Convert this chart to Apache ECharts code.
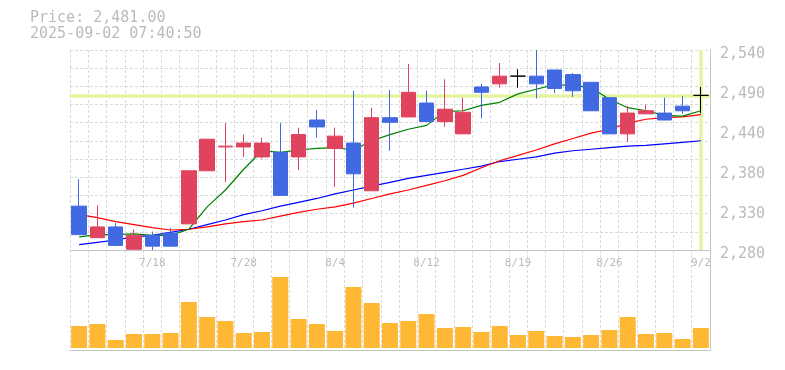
<!DOCTYPE html>
<html>
<head>
<meta charset="utf-8">
<script src="https://cdn.jsdelivr.net/npm/echarts@6/dist/echarts.min.js"></script>
<style>html,body{margin:0;padding:0;background:#fff}#c{width:785px;height:370px}</style>
</head>
<body>
<div id="c"></div>
<script>
const categories = ['7/14','7/15','7/16','7/17','7/18','7/22','7/23','7/24','7/25','7/28','7/29','7/30','7/31','8/1','8/4','8/5','8/6','8/7','8/8','8/12','8/13','8/14','8/15','8/18','8/19','8/20','8/21','8/22','8/25','8/26','8/27','8/28','8/29','9/1','9/2'];
const opens  = [2337,2296,2310,2281,2299,2302,2314,2383,2414,2414,2401,2407,2401,2449,2412,2419,2357,2452,2453,2471,2447,2431,2492,2496,2506,2506,2514,2508,2498,2478,2431,2457,2458,2467,2481];
const closes = [2300,2310,2286,2299,2285,2285,2383,2424,2415,2419,2419,2351,2430,2440,2428,2379,2452,2446,2485,2447,2463,2459,2485,2506,2506,2496,2490,2487,2461,2431,2458,2461,2449,2461,2481];
const lows   = [2300,2296,2286,2280,2280,2285,2314,2383,2368,2401,2399,2351,2384,2426,2362,2335,2357,2409,2453,2447,2440,2431,2451,2491,2491,2477,2484,2479,2461,2431,2420,2457,2449,2457,2458];
const highs  = [2372,2338,2315,2307,2304,2309,2383,2424,2445,2430,2426,2445,2439,2462,2439,2487,2465,2488,2522,2487,2502,2478,2496,2523,2515,2540,2514,2510,2498,2478,2467,2469,2478,2480,2492];
const ma5  = [2297,2300,2300,2301,2299,2299,2307,2336,2358,2385,2409,2407,2410,2412,2413,2410,2422,2430,2437,2442,2460,2461,2468,2472,2483,2489,2495,2494,2491,2476,2465,2461,2455,2454,2461];
const ma25 = [2326,2322,2317,2313,2309,2306,2307,2310,2314,2317,2319,2324,2329,2333,2336,2341,2347,2353,2358,2364,2370,2377,2387,2396,2403,2410,2418,2425,2432,2437,2445,2450,2452,2453,2456];
const ma75 = [2287,2290,2293,2297,2299,2303,2307,2313,2319,2326,2331,2337,2342,2347,2353,2358,2363,2368,2373,2377,2381,2385,2389,2395,2398,2401,2406,2409,2411,2413,2415,2416,2418,2420,2422];
const volumes = [220,240,80,140,140,150,460,310,270,150,160,710,290,240,170,610,450,250,270,340,200,210,160,220,130,170,120,110,130,180,310,140,150,90,200];
const yTicks = [2280,2540,52];
const lastPrice = 2481;

const RED = '#E0435E', BLUE = '#4169E1', GRIDC = '#dadada', AXISC = '#c4c4c4', TXT = '#bbbbbb';
const FONT = 'DejaVu Sans Mono';

const candleData = categories.map((c, i) => {
  const v = [opens[i], closes[i], lows[i], highs[i]];
  if (opens[i] === closes[i]) {
    return {value: v, itemStyle: {color: '#000', color0: '#000', borderColor: '#000', borderColor0: '#000', borderColorDoji: '#000'}};
  }
  return v;
});

const dashed = {show: true, interval: 0, lineStyle: {color: GRIDC, type: [3, 2], width: 1}};

const chart = echarts.init(document.getElementById('c'), null, {renderer: 'canvas'});
chart.setOption({
  animation: false,
  title: {
    text: 'Price: 2,481.00\n2025-09-02 07:40:50',
    left: 30, top: 10, padding: 0,
    textStyle: {fontFamily: FONT, fontSize: 15, fontWeight: 'normal', color: TXT, lineHeight: 16}
  },
  grid: [
    {left: 70, right: 75, top: 50, height: 200},
    {left: 70, right: 75, top: 250, height: 100}
  ],
  xAxis: [
    {type: 'category', data: categories, gridIndex: 0, boundaryGap: true,
     axisLine: {show: true, onZero: false, lineStyle: {color: AXISC}},
     axisTick: {show: false},
     axisLabel: {interval: (i) => i % 5 === 4, color: TXT, fontFamily: FONT, fontSize: 11, margin: 8},
     splitLine: dashed},
    {type: 'category', data: categories, gridIndex: 1, boundaryGap: true,
     axisLine: {show: true, onZero: false, lineStyle: {color: AXISC}},
     axisTick: {show: false}, axisLabel: {show: false},
     splitLine: dashed}
  ],
  yAxis: [
    {type: 'value', gridIndex: 0, position: 'right', min: yTicks[0], max: yTicks[1], interval: yTicks[2],
     axisLine: {show: true, lineStyle: {color: AXISC}}, axisTick: {show: false}, splitLine: {show: false},
     axisLabel: {margin: 10, color: TXT, fontFamily: FONT, fontSize: 15, verticalAlign: 'top', lineHeight: 9,
       formatter: (v) => (Math.round(v / 10) * 10).toLocaleString('en-US')}},
    {type: 'value', gridIndex: 0, position: 'left', min: 0, max: 11, interval: 1,
     axisLine: {show: false}, axisTick: {show: false}, axisLabel: {show: false},
     splitLine: {show: true, lineStyle: {color: GRIDC, type: [3, 2], width: 1}}},
    {type: 'value', gridIndex: 1, position: 'right', min: -20, max: 980,
     axisLine: {show: true, lineStyle: {color: AXISC}}, axisTick: {show: false},
     axisLabel: {show: false}, splitLine: {show: false}}
  ],
  series: [
    {type: 'line', name: 'MA75', xAxisIndex: 0, yAxisIndex: 0, data: ma75, symbol: 'none', z: 3,
     lineStyle: {color: '#0000ff', width: 1.2}, silent: true},
    {type: 'line', name: 'MA25', xAxisIndex: 0, yAxisIndex: 0, data: ma25, symbol: 'none', z: 3,
     lineStyle: {color: '#ff0000', width: 1.2}, silent: true},
    {type: 'line', name: 'MA5', xAxisIndex: 0, yAxisIndex: 0, data: ma5, symbol: 'none', z: 3,
     lineStyle: {color: '#008000', width: 1.2}, silent: true,
     markLine: {silent: true, symbol: ['none', 'none'], z: 2, label: {show: false},
       lineStyle: {color: '#e4f5a2', width: 3.5, type: 'solid'},
       emphasis: {disabled: true},
       data: [{yAxis: lastPrice}, {xAxis: categories.length - 1}]}},
    {type: 'candlestick', xAxisIndex: 0, yAxisIndex: 0, data: candleData, barWidth: 15, z: 10,
     itemStyle: {color: RED, color0: BLUE, borderColor: RED, borderColor0: BLUE, borderColorDoji: '#000', borderWidth: 1}},
    {type: 'bar', xAxisIndex: 1, yAxisIndex: 2, data: volumes, barWidth: 16,
     itemStyle: {color: '#FFB833'}, silent: true}
  ]
});
</script>
</body>
</html>
